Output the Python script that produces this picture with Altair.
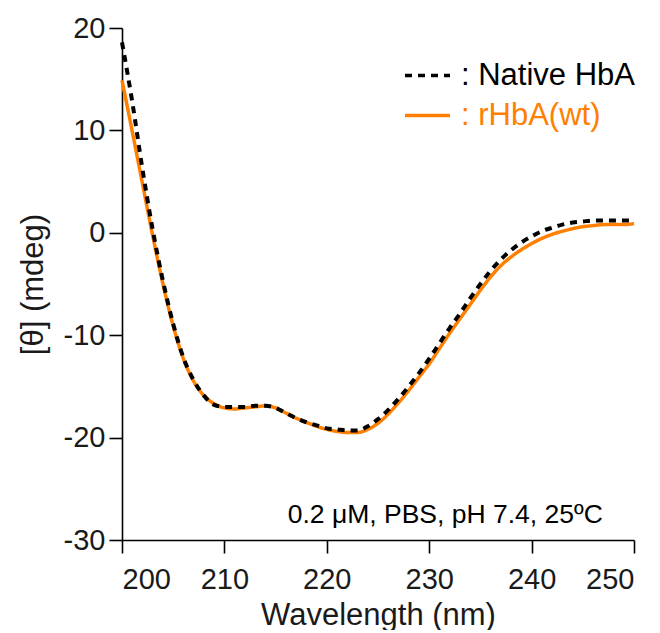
import altair as alt
import pandas as pd

# ---- data ----
wavelength = list(range(200, 251))

native_hba = [
    18.6, 12.8, 6.2, 0.3, -4.7, -8.9, -12.2, -14.4, -15.9, -16.8,
    -17.0, -17.0, -17.0, -16.9, -16.9, -17.1, -17.6, -18.1, -18.5, -18.8,
    -19.1, -19.2, -19.3, -19.3, -18.9, -18.2, -17.3, -16.2, -15.0, -13.7,
    -12.3, -10.8, -9.3, -7.9, -6.4, -5.0, -3.7, -2.6, -1.7, -0.95,
    -0.35, 0.15, 0.5, 0.8, 1.0, 1.1, 1.2, 1.2, 1.2, 1.2,
    1.2,
]

rhba_wt = [
    14.9, 9.9, 4.8, -0.3, -5.0, -9.1, -12.3, -14.5, -15.9, -16.7,
    -17.1, -17.2, -17.1, -17.0, -16.9, -17.1, -17.6, -18.1, -18.5, -18.9,
    -19.2, -19.4, -19.5, -19.5, -19.2, -18.6, -17.7, -16.6, -15.4, -14.1,
    -12.8, -11.3, -9.8, -8.4, -7.0, -5.6, -4.3, -3.2, -2.35, -1.65,
    -1.05, -0.55, -0.15, 0.15, 0.4, 0.6, 0.7, 0.8, 0.8, 0.8,
    0.9,
]

series_names = ["Native HbA", "rHbA(wt)"]
series_colors = ["#000000", "#ff8000"]
x_ticks = [200, 210, 220, 230, 240, 250]
y_ticks = [-30, -20, -10, 0, 10, 20]
annotation = ["0.2 μM, PBS, pH 7.4, 25ºC"]

df = pd.DataFrame({
    "wavelength": wavelength * 2,
    "theta": native_hba + rhba_wt,
    "series": [series_names[0]] * len(wavelength) + [series_names[1]] * len(wavelength),
})
ann_df = pd.DataFrame({"label": annotation})

FONT = "Liberation Sans"

legend = alt.Legend(
    title=None,
    orient="none",
    legendX=281,
    legendY=23,
    padding=0,
    labelExpr="': ' + datum.label",
    labelColor=alt.ExprRef("datum.label == 'rHbA(wt)' ? '#ff8000' : '#000000'"),
    labelFont=FONT,
    labelFontSize=31,
    labelOffset=9,
    labelLimit=400,
    symbolType="stroke",
    symbolSize=2025,
    symbolStrokeWidth=3.5,
    rowPadding=0,
)

x_enc = alt.X(
    "wavelength:Q",
    scale=alt.Scale(domain=[200, 250], nice=False, zero=False),
    axis=alt.Axis(values=x_ticks, title="Wavelength (nm)", labelPadding=12, titlePadding=6,
                  labelExpr="datum.value + ''"),
)
y_enc = alt.Y(
    "theta:Q",
    scale=alt.Scale(domain=[-30, 20], nice=False, zero=False),
    axis=alt.Axis(values=y_ticks, title="[θ] (mdeg)", labelPadding=4, titlePadding=14,
                  labelExpr="datum.value + ''"),
)
color_enc = alt.Color(
    "series:N",
    scale=alt.Scale(domain=series_names, range=series_colors),
    legend=legend,
)
dash_enc = alt.StrokeDash(
    "series:N",
    scale=alt.Scale(domain=series_names, range=[[7, 6], [1, 0]]),
    legend=legend,
)

base = alt.Chart(df)

orange = base.transform_filter(alt.datum.series == series_names[1]).mark_line(
    strokeWidth=3.5, interpolate="monotone"
).encode(x=x_enc, y=y_enc, color=color_enc, strokeDash=dash_enc)

black = base.transform_filter(alt.datum.series == series_names[0]).mark_line(
    strokeWidth=4, interpolate="monotone"
).encode(x=x_enc, y=y_enc, color=color_enc, strokeDash=dash_enc)

note = alt.Chart(ann_df).mark_text(
    align="right", baseline="alphabetic", font=FONT, fontSize=26.5, color="#000000"
).encode(
    x=alt.datum(246.96),
    y=alt.datum(-28.3),
    text="label:N",
)

chart = alt.layer(orange, black, note).properties(
    width=512,
    height=512,
    autosize=alt.AutoSizeParams(type="none"),
    padding={"left": 114, "top": 20, "right": 18, "bottom": 90},
).configure(
    background="white"
).configure_view(
    stroke=None
).configure_axis(
    grid=False,
    domainColor="#000000",
    domainWidth=1.6,
    tickColor="#000000",
    tickWidth=1.6,
    tickSize=13,
    labelFont=FONT,
    labelFontSize=29,
    labelColor="#1a1a1a",
    titleFont=FONT,
    titleFontSize=31,
    titleFontWeight="normal",
    titleColor="#1a1a1a",
)

chart.save("out.html", embed_options={"renderer": "svg", "actions": False})
